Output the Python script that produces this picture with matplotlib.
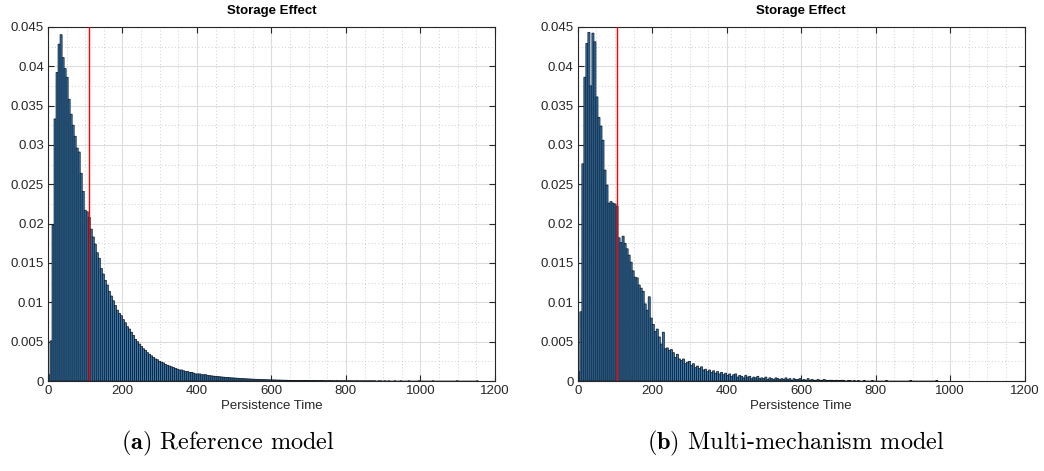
import numpy as np
import matplotlib
matplotlib.use('Agg')
import matplotlib.pyplot as plt
from matplotlib.ticker import MultipleLocator, FuncFormatter

plt.rcParams['font.family'] = ['Liberation Sans', 'DejaVu Sans']
plt.rcParams['mathtext.fontset'] = 'cm'

bin_width = 5.4

# probability per bin, reference model (bins start at 0)
ref_heights = [
    0.0008, 0.0051, 0.0198, 0.0333, 0.0392, 0.0428, 0.0440, 0.0411, 0.0397, 0.0386,
    0.0358, 0.0339, 0.0325, 0.0311, 0.0296, 0.0291, 0.0264, 0.0241, 0.0217, 0.0215,
    0.0208, 0.0193, 0.0183, 0.0174, 0.0163, 0.0156, 0.0143, 0.0136, 0.0128, 0.0122,
    0.0114, 0.0108, 0.0102, 0.0096, 0.0090, 0.0086, 0.0083, 0.0078, 0.0074, 0.0069,
    0.0066, 0.0062, 0.0058, 0.0053, 0.0050, 0.0047, 0.0044, 0.0041, 0.0039, 0.0036,
    0.0034, 0.0032, 0.0030, 0.0028, 0.0027, 0.0025, 0.0024, 0.0023, 0.0021, 0.0020,
    0.0019, 0.0018, 0.0017, 0.0016, 0.0015, 0.0014, 0.0014, 0.0013, 0.0012, 0.0012,
    0.0011, 0.0011, 0.0010, 0.0009, 0.0009, 0.0009, 0.0008, 0.0008, 0.0008, 0.0007,
    0.00068, 0.00065, 0.00061, 0.00060, 0.00056, 0.00054, 0.00051, 0.00049, 0.00046, 0.00045,
    0.00042, 0.00040, 0.00039, 0.00036, 0.00035, 0.00033, 0.00031, 0.00030, 0.00028, 0.00027,
    0.00026, 0.00024, 0.00023, 0.00022, 0.00021, 0.00020, 0.00018, 0.00018, 0.00017, 0.00016,
    0.00015, 0.00014, 0.00014, 0.00013, 0.00012, 0.00012, 0.00011, 0.00010, 0.00010, 0.00009,
    0.00009, 0.00008, 0.00008, 0.00008, 0.00007, 0.00007, 0.00006, 0.00006, 0.00006, 0.00005,
    0.00005, 0.00005, 0.00005, 0.00004, 0.00004, 0.00004, 0.00004, 0.00003, 0.00003, 0.00003,
    0.00003, 0.00003, 0.00002, 0.00003, 0.00002, 0.00002, 0.00002, 0.00002, 0.00001, 0.00002,
    0.00002, 0.00001, 0.00001, 0.00002, 0.00001, 0.00001, 0.00001, 0.00001, 0.00001, 0.00001,
    0.00001, 0.00001, 0.00001, 0.0, 0.00001, 0.00001, 0.0, 0.00001, 0.0, 0.00001,
    0.0, 0.0, 0.00001, 0.0, 0.0, 0.00001, 0.0, 0.0, 0.0, 0.00001,
    0.0, 0.0, 0.0, 0.0, 0.00001, 0.0, 0.0, 0.0, 0.0, 0.0,
    0.0, 0.00001, 0.0, 0.0, 0.0, 0.0, 0.0, 0.0, 0.0, 0.0,
    0.0, 0.0, 0.0, 0.00001, 0.0, 0.0, 0.0, 0.0, 0.0, 0.0,
    0.0, 0.0, 0.0, 0.00001,
]

# probability per bin, multi-mechanism model
multi_heights = [
    0.0012, 0.0088, 0.0276, 0.0386, 0.0429, 0.0443, 0.0375, 0.0442, 0.0431, 0.0361,
    0.0335, 0.0324, 0.0306, 0.0268, 0.0249, 0.0226, 0.0228, 0.0226, 0.0225, 0.0222,
    0.0182, 0.0176, 0.0184, 0.0175, 0.0168, 0.0160, 0.0151, 0.0140, 0.0132, 0.0131,
    0.0122, 0.0118, 0.0114, 0.0098, 0.0090, 0.0107, 0.0080, 0.0072, 0.0063, 0.0066,
    0.0056, 0.0047, 0.0062, 0.0041, 0.0042, 0.0039, 0.0040, 0.0036, 0.0030, 0.0034,
    0.0028, 0.0026, 0.0028, 0.0022, 0.0024, 0.0025, 0.0020, 0.0022, 0.0017, 0.0019,
    0.0016, 0.0018, 0.0014, 0.0015, 0.0012, 0.0014, 0.0011, 0.0013, 0.0010, 0.0012,
    0.0009, 0.0011, 0.0008, 0.0010, 0.0007, 0.0009, 0.0006, 0.0008, 0.0009, 0.0005,
    0.0007, 0.0006, 0.0004, 0.0007, 0.0005, 0.0006, 0.0003, 0.0005, 0.0004, 0.0006,
    0.0003, 0.0004, 0.0003, 0.0005, 0.0002, 0.0004, 0.0003, 0.0002, 0.0004, 0.0003,
    0.0002, 0.0003, 0.0002, 0.0004, 0.0002, 0.0003, 0.0001, 0.0003, 0.0002, 0.0002,
    0.0003, 0.0001, 0.0002, 0.0001, 0.0003, 0.0001, 0.0002, 0.0001, 0.0001, 0.0002,
    0.0001, 0.0001, 0.0002, 0.0001, 0.00005, 0.0001, 0.0001, 0.00005, 0.0001, 0.00005,
    0.00005, 0.0001, 0.00005, 0.0, 0.00005, 0.00005, 0.0, 0.00005, 0.0, 0.00005,
    0.0, 0.0, 0.00005, 0.0, 0.0, 0.0, 0.00005, 0.0, 0.0, 0.0,
    0.0, 0.0, 0.0, 0.00005, 0.0, 0.0, 0.0, 0.0, 0.0, 0.0,
    0.0, 0.0, 0.0, 0.0, 0.0, 0.00005, 0.0, 0.0, 0.0, 0.0,
    0.0, 0.0, 0.0, 0.0, 0.0, 0.0, 0.0, 0.0, 0.00005,
]

# mean persistence time (red line)
ref_mean = 110
multi_mean = 105

titles = ['Storage Effect', 'Storage Effect']
captions = [r'$\mathbf{(a)}$ Reference model', r'$\mathbf{(b)}$ Multi-mechanism model']
caption_x = [0.218, 0.762]

fig = plt.figure(figsize=(10.44, 4.71), dpi=100)
ax1 = fig.add_axes([0.046, 0.191, 0.428, 0.752])
ax2 = fig.add_axes([0.5535, 0.191, 0.428, 0.752])

bar_face = (0.2, 0.47, 0.7)
bar_edge = (0.06, 0.1, 0.15)
axis_col = (0.15, 0.15, 0.15)

for ax, h, m, ttl, cap, cx in zip([ax1, ax2], [ref_heights, multi_heights],
                                  [ref_mean, multi_mean], titles, captions, caption_x):
    h = np.array(h)
    left_edges = np.arange(len(h)) * bin_width
    ax.bar(left_edges, h, width=bin_width, align='edge', facecolor=bar_face,
           edgecolor=bar_edge, linewidth=0.55, zorder=2, snap=False)
    ax.axvline(m, color='red', linewidth=1.0, zorder=3)

    ax.set_xlim(0, 1200)
    ax.set_ylim(0, 0.045)
    ax.xaxis.set_major_locator(MultipleLocator(200))
    ax.xaxis.set_minor_locator(MultipleLocator(50))
    ax.yaxis.set_major_locator(MultipleLocator(0.005))
    ax.yaxis.set_minor_locator(MultipleLocator(0.0025))
    ax.yaxis.set_major_formatter(FuncFormatter(lambda v, p: f'{round(v, 4):g}'))

    ax.grid(which='major', color='#dcdcdc', linewidth=0.8, zorder=0)
    ax.grid(which='minor', color='#c0c0c0', linewidth=0.6, linestyle=(0, (1, 3)), zorder=0)
    ax.set_axisbelow(True)

    ax.tick_params(which='major', direction='in', length=4, width=0.8,
                   top=True, right=True, labelsize=9.5, colors=axis_col,
                   labelcolor=axis_col, pad=3)
    ax.tick_params(which='minor', length=0)
    for s in ax.spines.values():
        s.set_color(axis_col)
        s.set_linewidth(0.8)

    ax.set_title(ttl, fontsize=9.5, fontweight='bold', pad=9)
    ax.set_xlabel('Persistence Time', fontsize=9.5, color=axis_col, labelpad=2)

    fig.text(cx, 0.058, cap, fontsize=17.5, family='cmr10', ha='center', va='center')

plt.savefig('out.png', dpi=100)
